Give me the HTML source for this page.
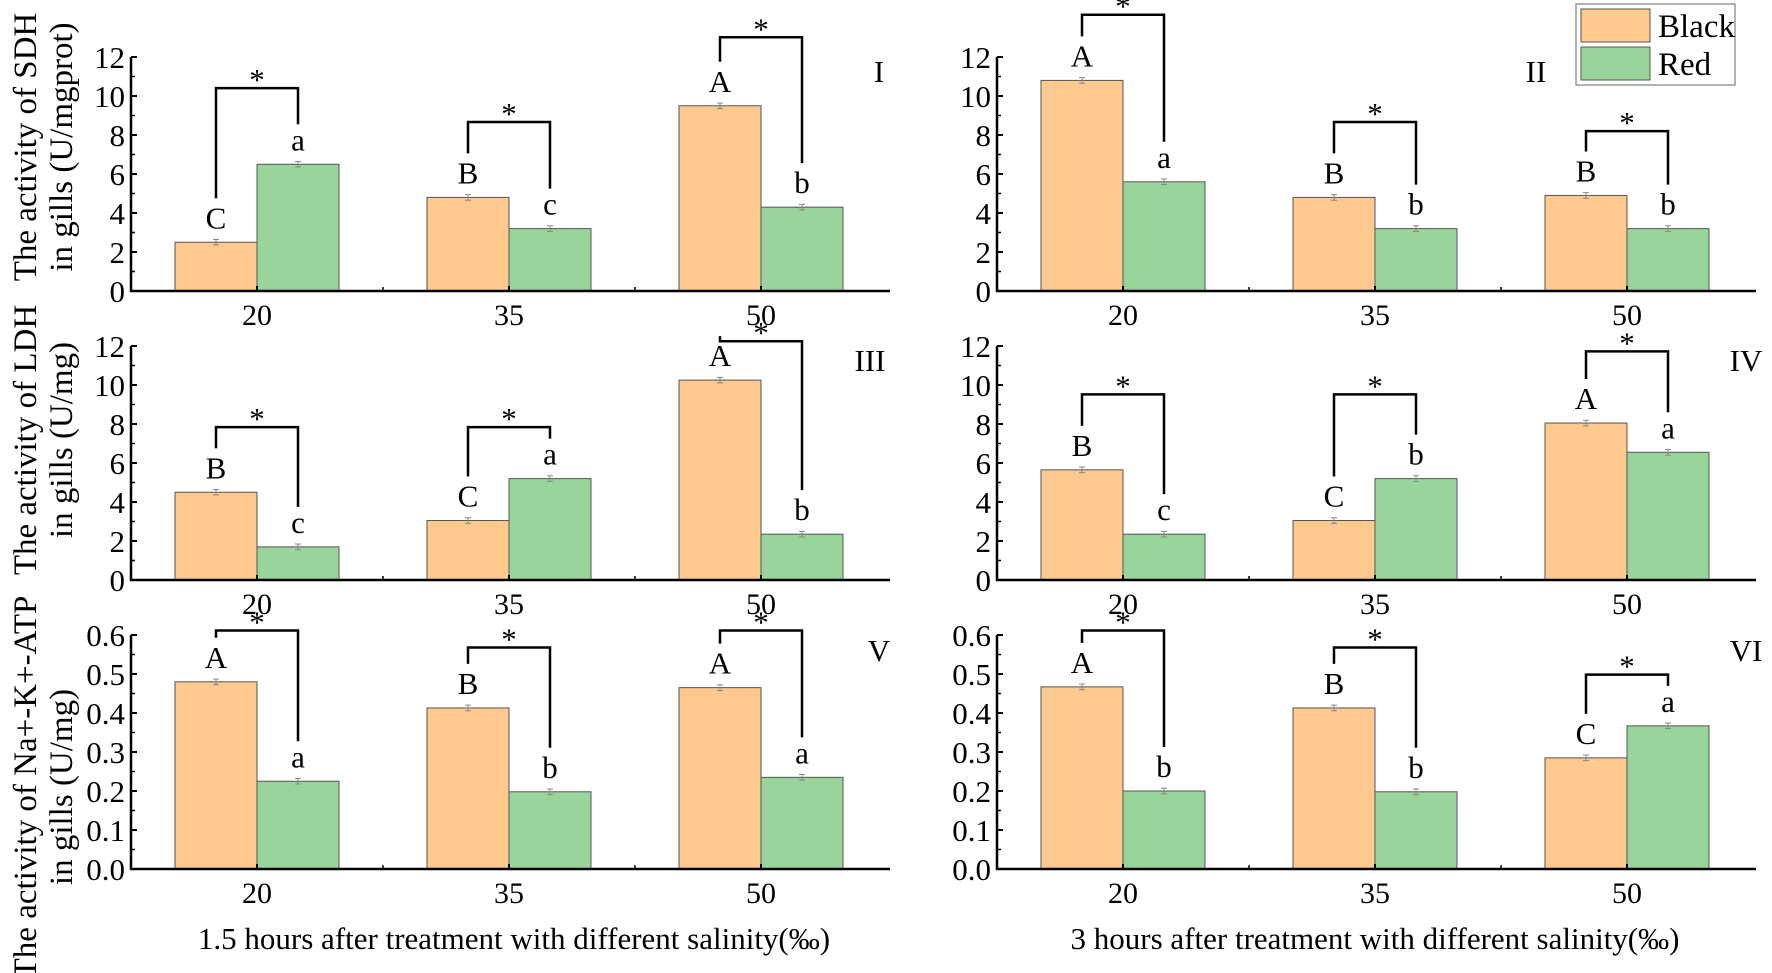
<!DOCTYPE html>
<html><head><meta charset="utf-8"><style>
html,body{margin:0;padding:0;background:#fff;}
svg{display:block;font-family:"Liberation Serif",serif;}
</style></head><body>
<svg id="s" width="1772" height="973" xmlns="http://www.w3.org/2000/svg"></svg>
<script>
const S=document.getElementById('s');let h='';
const K=1/0.885;
const panels=[
 {ax:131,y0:291,max:12,step:2,dec:0,roman:'I',rx:879,ry:71,
  d:[[2.5,6.5,'C','a',78],[4.8,3.2,'B','c',108],[9.5,4.3,'A','b',33]]},
 {ax:997,y0:291,max:12,step:2,dec:0,roman:'II',rx:1536,ry:71,
  d:[[10.8,5.6,'A','a',13],[4.8,3.2,'B','b',108],[4.9,3.2,'B','b',116]]},
 {ax:131,y0:580,max:12,step:2,dec:0,roman:'III',rx:870,ry:360,
  d:[[4.5,1.7,'B','c',378],[3.05,5.2,'C','a',378],[10.25,2.35,'A','b',302]]},
 {ax:997,y0:580,max:12,step:2,dec:0,roman:'IV',rx:1746,ry:360,
  d:[[5.65,2.35,'B','c',349],[3.05,5.2,'C','b',349],[8.05,6.55,'A','a',311]]},
 {ax:131,y0:869,max:0.6,step:0.1,dec:1,roman:'V',rx:879,ry:650,
  d:[[0.48,0.225,'A','a',558],[0.413,0.198,'B','b',573],[0.465,0.235,'A','a',558]]},
 {ax:997,y0:869,max:0.6,step:0.1,dec:1,roman:'VI',rx:1746,ry:650,
  d:[[0.467,0.2,'A','b',558],[0.413,0.198,'B','b',573],[0.285,0.367,'C','a',597]]}
];
const H=234;
panels.forEach(p=>{
 const sc=H/p.max, yv=v=>p.y0-v*sc, end=p.ax+759;
 const cs=[p.ax+126,p.ax+378,p.ax+630];
 p.d.forEach((g,i)=>{
  const c=cs[i];
  [[g[0],c-82,'#fdc98f'],[g[1],c,'#99d59a']].forEach(b=>{
   const y=yv(b[0]);
   h+=`<rect x="${b[1]}" y="${y}" width="82" height="${p.y0-y}" fill="${b[2]}" stroke="#555" stroke-width="1"/>`;
   const e=p.max*0.012;
   h+=`<path d="M${b[1]+41} ${yv(b[0]+e)}V${yv(b[0]-e)}M${b[1]+38} ${yv(b[0]+e)}h6M${b[1]+38} ${yv(b[0]-e)}h6" stroke="#888" stroke-width="1"/>`;
  });
  const bl1=yv(g[0])-14, bl2=yv(g[1])-14;
  h+=`<text x="${c-41}" y="${bl1}" font-size="31" text-anchor="middle">${g[2]}</text>`;
  h+=`<text x="${c+41}" y="${bl2}" font-size="31" text-anchor="middle">${g[3]}</text>`;
  const top=g[4]*K;
  const l1=bl1-30, l2=bl2-(('ac'.includes(g[3]))?26:30);
  h+=`<path d="M${c-41} ${l1}V${top}H${c+41}V${l2}" fill="none" stroke="#000" stroke-width="2.5"/>`;
  h+=`<text x="${c}" y="${top+2}" font-size="31" text-anchor="middle">*</text>`;
  h+=`<text x="${c}" y="${p.y0+34}" font-size="30" text-anchor="middle">${[20,35,50][i]}</text>`;
 });
 h+=`<path d="M${p.ax} ${p.y0-H}V${p.y0}H${end}" fill="none" stroke="#000" stroke-width="2.5"/>`;
 const n=Math.round(p.max/p.step);
 for(let k=0;k<=n;k++){
  const y=p.y0-k*H/n;
  h+=`<path d="M${p.ax} ${y}h6" stroke="#000" stroke-width="2"/>`;
  if(k<n)h+=`<path d="M${p.ax} ${y-H/n/2}h4" stroke="#000" stroke-width="1.5"/>`;
  h+=`<text x="${p.ax-6}" y="${y+11}" font-size="31" text-anchor="end">${(k*p.step).toFixed(p.dec)}</text>`;
 }
 cs.forEach(c=>h+=`<path d="M${c} ${p.y0}v-5" stroke="#000" stroke-width="2"/>`);
 [p.ax+252,p.ax+504].forEach(c=>h+=`<path d="M${c} ${p.y0}v-4" stroke="#000" stroke-width="1.5"/>`);
 h+=`<text x="${p.rx}" y="${p.ry+11}" font-size="31" text-anchor="middle">${p.roman}</text>`;
});
[['The activity of SDH','in gills (U/mgprot)',147],['The activity of LDH','in gills (U/mg)',440],['The activity of Na+-K+-ATP','in gills (U/mg)',787]].forEach(l=>{
 h+=`<text transform="translate(26,${l[2]}) rotate(-90)" font-size="33" text-anchor="middle" dominant-baseline="central">${l[0]}</text>`;
 h+=`<text transform="translate(62,${l[2]}) rotate(-90)" font-size="33" text-anchor="middle" dominant-baseline="central">${l[1]}</text>`;
});
h+=`<text x="514" y="949" font-size="31" text-anchor="middle">1.5 hours after treatment with different salinity(‰)</text>`;
h+=`<text x="1375" y="949" font-size="31" text-anchor="middle">3 hours after treatment with different salinity(‰)</text>`;
h+=`<rect x="1576" y="4" width="159" height="81" fill="#fff" stroke="#999" stroke-width="1.5"/>`;
h+=`<rect x="1581" y="9" width="69" height="33" fill="#fdc98f" stroke="#555"/>`;
h+=`<rect x="1581" y="47" width="69" height="33" fill="#99d59a" stroke="#555"/>`;
h+=`<text x="1658" y="37" font-size="33">Black</text><text x="1658" y="75" font-size="33">Red</text>`;
S.innerHTML=h;
</script>
</body></html>
